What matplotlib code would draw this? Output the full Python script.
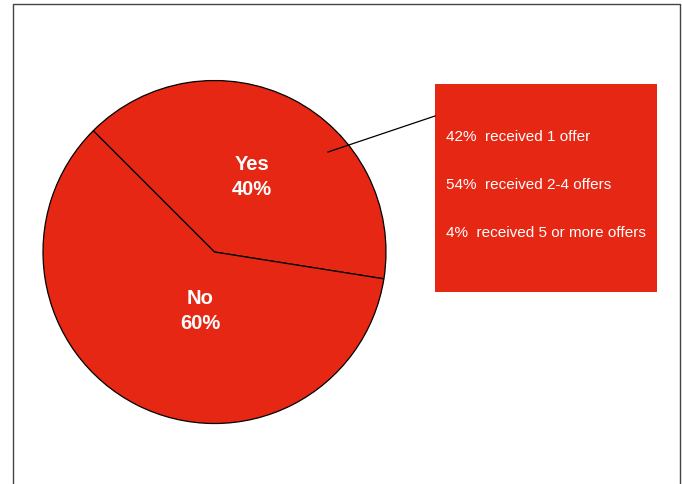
import numpy as np
import matplotlib.pyplot as plt
from matplotlib.patches import Rectangle

# pie data
labels = ["Yes", "No"]
shares = [40, 60]

# breakdown of the "Yes" group
offer_pcts = ["42%", "54%", "4%"]
offer_texts = ["received 1 offer", "received 2-4 offers", "received 5 or more offers"]

red = "#E62714"
W, H = 683, 485
fam = ["Liberation Sans", "DejaVu Sans"]

fig = plt.figure(figsize=(W / 100, H / 100), dpi=100)
ax = fig.add_axes([0, 0, 1, 1])

# outer frame (bottom runs off the picture)
ax.plot([13, 13, 680, 680], [0, H - 5, H - 5, 0], color="#444444", lw=1)

cx, cy, r = 214.5, H - 253, 171.5
wedges, _ = ax.pie(shares, colors=[red, red], startangle=-9, counterclock=True,
                   center=(cx, cy), radius=r, frame=True,
                   wedgeprops=dict(edgecolor="black", linewidth=0.9))
ax.set_xlim(0, W)
ax.set_ylim(0, H)
ax.set_aspect("equal")
ax.axis("off")

# slice labels
label_pos = {"Yes": (252, H - 177), "No": (200, H - 311)}
for lab, val in zip(labels, shares):
    x, y = label_pos[lab]
    ax.text(x, y, f"{lab}\n{val}%", color="white", fontsize=14.5, fontweight="bold",
            ha="center", va="center", linespacing=1.45, family=fam)

# callout box
ax.add_patch(Rectangle((435, H - 293), 222, 208, facecolor=red, edgecolor="none"))
ax.plot([328, 435], [H - 153, H - 117], color="black", lw=0.9)
for i, (p, t) in enumerate(zip(offer_pcts, offer_texts)):
    ax.text(446, H - 137 - 48 * i, f"{p}  {t}", color="white", fontsize=11,
            ha="left", va="center", family=fam)

fig.savefig("out.png", dpi=100)
